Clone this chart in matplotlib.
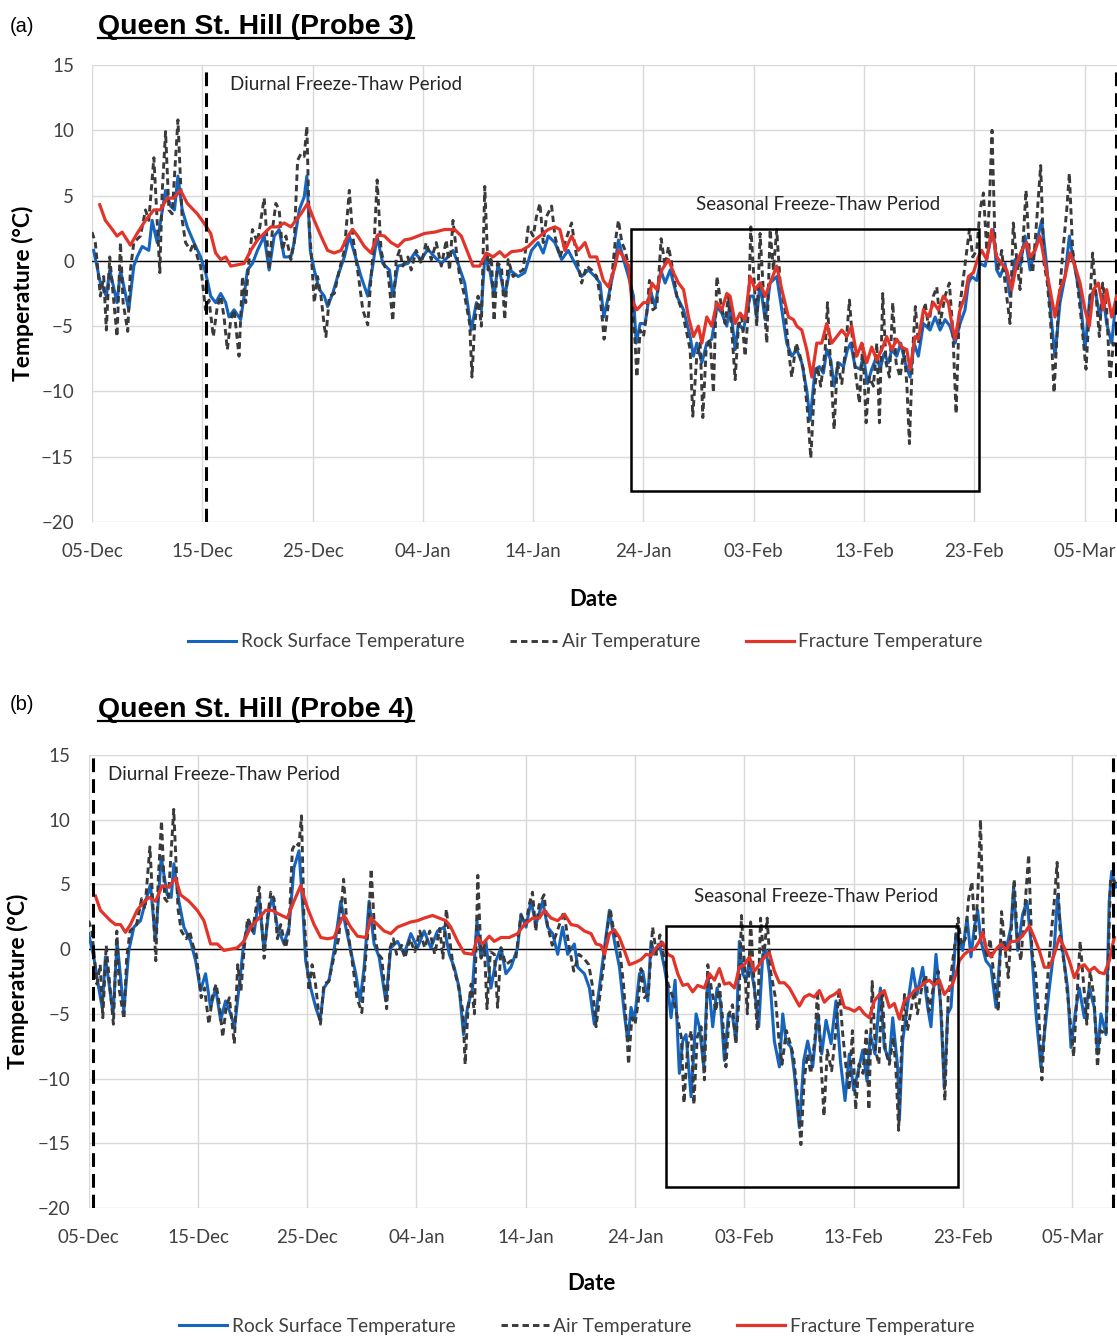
import numpy as np
import matplotlib.pyplot as plt
import matplotlib.dates as mdates
from matplotlib.patches import Rectangle
from matplotlib.lines import Line2D

plt.rcParams['font.family'] = ['Lato', 'DejaVu Sans']

# days since 05-Dec, air temperature is shared by both probes
air_day = [0.00, 0.30, 0.76, 1.06, 1.30, 1.61, 1.82, 2.27, 2.58, 2.82, 3.24, 3.48, 3.79, 4.39, 4.85, 5.15,
           5.61, 5.91, 6.15, 6.36, 6.67, 6.97, 7.27, 7.79, 8.18, 8.48, 8.94, 9.24, 9.55, 9.85, 10.30, 10.61,
           11.00, 11.36, 11.67, 11.97, 12.27, 12.58, 12.88, 13.33, 13.64, 13.94, 14.24, 14.55, 15.00, 15.61,
           16.06, 16.36, 16.67, 16.97, 17.27, 17.58, 18.03, 18.33, 18.64, 18.94, 19.24, 19.48, 19.70, 19.91,
           20.15, 20.45, 20.76, 21.06, 21.21, 21.52, 21.97, 22.42, 22.88, 23.33, 23.64, 23.94, 24.24, 24.55,
           25.00, 25.30, 25.61, 25.85, 26.21, 26.52, 26.82, 27.27, 27.58, 27.88, 28.18, 28.64, 28.94, 29.39,
           29.85, 30.30, 30.76, 31.21, 31.67, 32.12, 32.42, 32.73, 33.03, 33.33, 33.79, 34.24, 34.45, 34.70,
           35.00, 35.30, 35.61, 35.91, 36.21, 36.45, 36.76, 37.12, 37.42, 37.73, 38.18, 38.64, 39.09, 39.55,
           40.00, 40.30, 40.61, 40.91, 41.21, 41.67, 41.97, 42.42, 42.88, 43.48, 43.94, 44.39, 44.85, 45.30,
           45.76, 46.07, 46.43, 46.83, 47.13, 47.43, 47.73, 48.04, 48.34, 48.64, 48.94, 49.24, 49.40, 49.70,
           50.00, 50.30, 50.54, 50.85, 51.21, 51.60, 51.96, 52.27, 52.66, 53.02, 53.47, 53.87, 54.23, 54.47,
           54.83, 55.14, 55.38, 55.68, 56.04, 56.34, 56.65, 57.01, 57.40, 57.70, 58.00, 58.31, 58.61, 58.91,
           59.21, 59.52, 59.73, 59.97, 60.27, 60.57, 60.88, 61.18, 61.48, 61.78, 62.08, 62.39, 62.84, 63.14,
           63.44, 63.84, 64.20, 64.50, 64.86, 65.17, 65.47, 65.77, 66.07, 66.47, 66.68, 66.98, 67.28, 67.58,
           67.98, 68.37, 68.67, 68.97, 69.27, 69.58, 69.88, 70.18, 70.48, 70.85, 71.15, 71.39, 71.69, 71.99,
           72.30, 72.60, 72.90, 73.26, 73.63, 73.87, 74.11, 74.41, 74.65, 74.92, 75.23, 75.53, 75.83, 76.28,
           76.59, 76.89, 77.34, 77.73, 78.04, 78.34, 78.64, 78.94, 79.31, 79.55, 79.85, 80.21, 80.51, 80.82,
           81.12, 81.36, 81.60, 81.87, 82.18, 82.48, 82.78, 83.23, 83.53, 83.84, 84.14, 84.44, 84.68, 84.98,
           85.29, 85.65, 86.01, 86.31, 86.62, 86.92, 87.22, 87.61, 88.01, 88.37, 88.61, 88.91, 89.27, 89.73,
           90.12, 90.42, 90.72, 91.03, 91.33, 91.63, 91.99, 92.30, 92.60, 93.10, 93.50, 94.10]
air_temp = [2.2, 1.4, -2.7, -1.2, -5.3, 0.3, -1.7, -5.8, 1.4, -3.2, -5.4, -0.7, 1.4, 1.9, 3.9, 3.1,
            7.9, 3.1, -0.9, 5.2, 9.9, 3.9, 3.6, 10.8, 3.1, 1.4, 0.8, 1.4, 0.3, -0.4, -3.75, -3.0,
            -5.8, -3.5, -2.7, -4.3, -6.8, -4.5, -3.75, -7.3, -1.2, -3.2, 0.1, 2.4, 1.4, 4.8,
            -0.7, 2.4, 4.4, 3.9, 0.8, 1.9, 0.1, 1.4, 7.7, 8.2, 8.0, 10.3, 2.6, 0.1,
            -3.2, -1.2, -2.7, -5.0, -5.8, -2.7, -2.5, -0.7, 0.8, 5.4, 1.9, 0.1, -1.7, -3.75,
            -4.9, -1.2, 1.9, 6.2, 0.8, -0.4, -0.7, -4.6, 0.1, 0.8, -0.4, 0.3, -0.7, 0.8,
            -0.2, 1.4, 0.1, 1.4, -0.4, 1.6, -0.7, 3.1, 0.8, -1.2, -2.7, -4.8, -8.9, -4.8,
            -2.7, -5.0, 5.7, -0.7, 0.3, -4.6, -0.2, -0.4, -4.5, 0.1, -1.2, -0.9, -0.7, 2.6,
            1.9, 3.4, 4.4, 1.4, 3.4, 4.2, 1.9, 0.3, 1.4, 2.9, 0.3, -1.7, -0.4, -0.7,
            -1.2, -2.7, -6.0, -3.2, -1.2, 1.4, 3.1, 1.4, 0.8, -0.4, -2.7, -6.3, -8.9, -5.3,
            -5.8, -4.0, -1.5, -3.75, -3.5, 1.7, -0.4, 1.1, -0.7, -2.7, -3.75, -5.3, -6.8, -11.9,
            -7.3, -6.3, -12.0, -6.8, -6.0, -10.1, -1.2, -3.2, -4.8, -2.7, -5.3, -9.1, -5.0, -4.3,
            -7.3, -3.75, 2.6, -0.7, -5.0, 2.1, -2.5, -6.3, 2.4, -0.7, 2.4, -1.7, -3.75, -6.8,
            -8.9, -6.3, -7.3, -8.3, -11.4, -15.1, -10.1, -8.1, -9.6, -6.8, -3.2, -8.3, -12.9, -7.8,
            -9.4, -6.3, -3.0, -6.3, -8.9, -10.9, -6.3, -12.4, -8.9, -9.6, -6.3, -12.4, -2.5, -7.8,
            -8.9, -3.2, -7.8, -8.9, -6.8, -9.4, -14.0, -6.8, -3.5, -6.3, -4.8, -3.2, -5.0, -2.7,
            -2.0, -4.8, -2.7, -1.7, -5.3, -11.7, -3.75, -1.7, 0.8, 2.4, 0.3, 0.8, 3.9, 5.2,
            0.8, 4.4, 10.0, 1.4, -0.7, 0.8, -1.7, -4.8, 2.9, 0.1, -2.2, 1.9, 5.4, 0.8,
            -0.9, 3.1, 7.3, -0.2, -1.7, -4.8, -10.1, -3.75, 0.6, 3.9, 6.7, 0.8, -1.2, -4.8,
            -8.3, -3.75, 0.6, -2.7, -5.8, -1.7, -3.75, -9.1, -6.3, -6.6, 5.5, 5.0]

# Probe 3
rock3_day = [0.15, 0.76, 1.30, 1.61, 2.27, 2.58, 3.33, 3.79, 4.09, 4.55, 5.15, 5.45, 5.91, 6.67, 7.12, 7.48,
             7.79, 8.18, 8.64, 9.24, 9.85, 10.30, 10.76, 11.21, 11.67, 12.12, 12.42, 12.88, 13.48, 13.79,
             14.09, 14.55, 15.00, 15.61, 16.06, 16.52, 16.97, 17.42, 18.03, 18.33, 18.79, 19.24, 19.48,
             19.79, 20.15, 20.61, 21.06, 21.36, 21.82, 22.27, 22.88, 23.33, 23.79, 24.39, 25.00, 25.45,
             25.85, 26.36, 26.97, 27.27, 27.73, 28.64, 29.25, 29.85, 30.45, 31.06, 31.67, 32.27, 32.73,
             33.18, 33.79, 34.39, 34.85, 35.30, 35.61, 36.06, 36.45, 36.82, 37.42, 37.88, 38.64, 39.24,
             39.85, 40.45, 40.91, 41.36, 41.97, 42.58, 43.18, 43.79, 44.39, 45.00, 45.61, 46.06, 46.40,
             46.83, 47.43, 47.73, 48.19, 48.64, 49.09, 49.34, 49.70, 50.15, 50.60, 51.06, 51.57, 51.96,
             52.42, 53.02, 53.63, 54.23, 54.53, 54.83, 55.29, 55.74, 56.19, 56.65, 57.10, 57.55, 57.85,
             58.31, 58.61, 59.06, 59.67, 59.97, 60.27, 60.57, 61.03, 61.48, 62.08, 62.54, 62.99, 63.44,
             63.90, 64.35, 64.80, 65.11, 65.56, 65.95, 66.31, 66.62, 66.98, 67.28, 67.67, 68.13, 68.49,
             68.79, 69.18, 69.64, 69.94, 70.30, 70.69, 71.15, 71.45, 71.81, 72.21, 72.51, 72.96, 73.32,
             73.72, 74.17, 74.53, 74.92, 75.38, 75.98, 76.44, 76.89, 77.34, 77.79, 78.25, 78.70, 79.15,
             79.46, 79.76, 80.21, 80.51, 80.97, 81.42, 81.72, 82.02, 82.33, 82.78, 83.23, 83.69, 84.14,
             84.59, 85.05, 85.65, 86.10, 86.56, 87.01, 87.31, 87.76, 88.22, 88.61, 88.97, 89.58, 90.03,
             90.48, 90.94, 91.39, 91.69, 91.99, 92.45, 92.90]
rock3_temp = [0.8, -1.7, -2.7, -0.7, -3.2, -0.7, -3.75, -0.4, 0.3, 1.1, 0.8, 3.1, 1.4, 5.4, 4.2, 3.9,
              6.5, 3.9, 2.6, 1.4, 0.3, -0.9, -2.7, -3.2, -2.5, -3.2, -4.3, -3.75, -4.5, -2.7,
              -0.7, -0.2, 0.8, 1.9, -0.7, 1.9, 2.4, 0.3, 0.3, 1.4, 3.9, 4.9, 6.5,
              0.8, -0.7, -2.2, -2.7, -3.5, -2.5, -1.2, 0.3, 1.9, 0.6, -1.2, -2.7, -0.4,
              1.9, -0.2, -0.7, -2.7, -0.4, -0.2, 0.6, 0.1, 0.9, 0.3, -0.2, 0.3, 0.8,
              -0.2, -1.7, -5.3, -3.2, -3.75, 0.3, -0.7, -2.7, -0.2, -2.7, -0.7, -1.2, -0.9,
              0.8, 1.4, 0.6, 1.9, 1.4, 0.1, 0.8, -0.2, -1.2, -0.7, -1.2, -1.7, -4.3,
              -2.7, -0.2, 1.6, 0.1, -1.2, -2.7, -6.3, -4.8, -4.8, -2.2, -3.5, -0.7, -1.7,
              -0.7, -2.7, -3.75, -5.8, -7.3, -6.3, -7.8, -6.3, -6.0, -3.5, -4.0, -5.0, -3.2,
              -6.8, -4.8, -5.3, -2.7, -2.7, -4.3, -1.7, -4.5, -1.7, -1.2, -3.75, -6.3, -7.3,
              -6.8, -7.8, -9.9, -12.2, -8.3, -8.1, -8.6, -6.8, -7.6, -9.6, -7.8, -8.1, -6.8,
              -6.3, -8.1, -8.3, -7.3, -9.4, -8.3, -7.3, -8.3, -7.1, -7.8, -6.8, -7.3, -6.3,
              -7.8, -8.9, -6.3, -7.3, -4.8, -5.3, -4.3, -5.3, -4.5, -5.0, -6.3, -4.8, -3.75,
              -1.7, -1.2, -1.5, -0.2, -0.4, 1.4, 2.4, -0.7, -1.2, -0.2, -2.7, 0.1, -0.4,
              1.9, -0.7, 1.4, 3.1, -0.4, -4.8, -7.3, -3.2, -1.2, 1.9, 0.1, -2.7, -6.8,
              -2.7, -2.2, -4.3, -2.7, -4.8, -6.3, -2.5]

frac3_day = [0.70, 1.21, 1.67, 2.27, 2.73, 3.48, 4.09, 4.85, 5.61, 6.21, 6.82, 7.42, 8.03, 8.64, 9.55, 10.15,
             10.76, 11.21, 11.67, 12.12, 12.58, 13.18, 13.79, 14.39, 15.00, 15.61, 16.21, 16.82, 17.42,
             18.03, 18.48, 18.94, 19.55, 20.15, 20.76, 21.36, 21.97, 22.58, 23.18, 23.64, 24.09, 24.70,
             25.30, 25.91, 26.52, 27.12, 27.73, 28.33, 28.94, 29.55, 30.15, 31.06, 31.97, 32.88, 33.48,
             34.09, 34.55, 35.15, 35.76, 36.36, 36.97, 37.42, 38.03, 38.94, 39.55, 40.15, 40.76, 41.36,
             41.97, 42.42, 42.88, 43.48, 44.09, 44.70, 45.15, 45.76, 46.36, 46.83, 47.43, 47.73, 48.19,
             48.64, 48.94, 49.40, 50.00, 50.45, 50.76, 51.21, 51.66, 52.27, 52.72, 53.17, 53.63, 54.08,
             54.53, 54.98, 55.29, 55.74, 56.19, 56.65, 57.10, 57.55, 57.85, 58.31, 58.76, 59.21, 59.67,
             60.12, 60.57, 61.03, 61.48, 62.08, 62.54, 63.14, 63.60, 63.90, 64.35, 64.80, 65.26, 65.71,
             66.16, 66.62, 67.07, 67.52, 67.98, 68.43, 68.88, 69.34, 69.79, 70.24, 70.69, 71.15, 71.60,
             72.05, 72.51, 72.96, 73.41, 73.87, 74.17, 74.62, 74.92, 75.38, 75.83, 76.28, 76.74, 77.19,
             77.64, 77.95, 78.25, 78.70, 79.15, 79.46, 79.91, 80.36, 80.66, 81.12, 81.57, 82.02, 82.48,
             82.93, 83.38, 83.84, 84.29, 84.74, 85.05, 85.50, 85.95, 86.40, 86.86, 87.31, 87.76, 88.22,
             88.67, 89.12, 89.58, 90.03, 90.42, 90.79, 91.24, 91.69, 91.99, 92.45, 92.90]
frac3_temp = [4.3, 3.1, 2.6, 1.9, 2.2, 1.2, 2.1, 3.1, 3.9, 3.9, 4.8, 4.8, 5.4, 4.4, 3.6, 2.9,
              2.1, 0.6, 0.1, 0.3, -0.4, -0.3, -0.2, 0.8, 1.6, 2.1, 2.6, 2.6, 2.9,
              2.6, 3.1, 3.6, 4.4, 3.1, 1.9, 0.8, 0.6, 0.8, 1.9, 2.4, 1.9, 1.1,
              0.6, 2.0, 1.9, 1.4, 1.1, 1.6, 1.7, 1.9, 2.1, 2.2, 2.4, 2.4, 1.9,
              0.6, -0.4, -0.4, 0.6, 0.3, 0.7, 0.3, 0.7, 0.8, 1.1, 1.6, 2.0, 2.4,
              2.6, 2.4, 0.8, 1.9, 0.8, 1.4, 0.3, 0.3, -1.5, -2.0, -0.4, 0.8, 0.3,
              -0.4, -3.0, -3.75, -3.2, -3.2, -1.7, -2.2, -0.7, 0.1, -0.9, -1.7, -2.2, -4.3,
              -5.8, -5.0, -6.3, -4.3, -5.0, -3.2, -3.75, -2.5, -2.7, -4.8, -4.0, -4.5, -1.2,
              -2.2, -1.7, -2.7, -1.7, -0.4, -2.2, -4.3, -4.5, -5.0, -5.3, -6.8, -8.9, -6.3,
              -6.3, -4.8, -6.3, -5.8, -5.3, -5.8, -5.0, -7.3, -6.3, -7.8, -6.6, -7.6, -6.8,
              -5.8, -6.8, -6.0, -6.6, -6.8, -8.3, -5.8, -6.0, -3.75, -4.3, -3.2, -3.75, -2.7,
              -3.2, -4.8, -6.0, -3.75, -2.7, -1.2, -0.9, 0.3, 0.8, 0.1, 2.4, 0.3, -0.2,
              -0.7, -2.2, -0.2, 0.8, 1.4, 0.3, 0.8, 1.9, -0.2, -2.2, -4.3, -2.2, -1.2,
              0.6, -0.4, -1.7, -3.75, -5.0, -2.2, -1.7, -3.75, -2.2, -4.3, -2.7]

# Probe 4
rock4_day = [0.00, 0.47, 0.93, 1.24, 1.54, 2.24, 2.61, 3.22, 3.68, 4.14, 4.75, 5.21, 5.66, 6.12, 6.64, 7.19,
             7.56, 7.80, 8.26, 8.72, 9.33, 9.79, 10.24, 10.70, 11.16, 11.62, 12.08, 12.53, 12.99, 13.36,
             13.76, 14.21, 14.67, 15.13, 15.59, 16.05, 16.50, 16.81, 17.27, 17.88, 18.34, 18.79, 19.25,
             19.56, 19.86, 20.32, 20.78, 21.18, 21.54, 22.00, 22.46, 23.07, 23.53, 23.98, 24.44, 24.84,
             25.21, 25.66, 26.12, 26.58, 27.19, 27.65, 28.26, 28.87, 29.48, 30.09, 30.70, 31.31, 31.92,
             32.53, 33.00, 33.45, 33.91, 34.30, 34.67, 35.13, 35.53, 35.89, 36.35, 36.81, 37.27, 37.73,
             38.18, 38.64, 39.25, 39.56, 40.02, 40.47, 40.93, 41.54, 42.00, 42.46, 42.92, 43.37, 43.83,
             44.44, 44.75, 45.36, 45.82, 46.27, 46.73, 47.04, 47.65, 48.11, 48.57, 49.02, 49.33, 49.63,
             49.94, 50.40, 50.70, 51.16, 51.46, 51.77, 52.23, 52.68, 52.99, 53.29, 53.66, 54.05, 54.36,
             54.66, 55.12, 55.58, 55.88, 56.28, 56.65, 57.10, 57.50, 57.80, 58.17, 58.54, 58.93, 59.24,
             59.54, 59.85, 60.15, 60.46, 60.91, 61.31, 61.68, 61.98, 62.29, 62.74, 63.20, 63.51, 63.81,
             64.27, 64.57, 65.03, 65.43, 65.79, 66.25, 66.71, 67.07, 67.47, 67.93, 68.38, 68.78, 69.21,
             69.60, 70.00, 70.37, 70.82, 71.22, 71.52, 71.95, 72.44, 72.80, 73.26, 73.57, 74.02, 74.18,
             74.48, 74.88, 75.40, 75.79, 76.31, 76.77, 77.07, 77.53, 77.93, 78.29, 78.60, 78.90, 79.36,
             79.66, 79.97, 80.37, 80.73, 81.04, 81.34, 81.65, 82.10, 82.56, 83.02, 83.48, 83.93, 84.39,
             84.63, 85.00, 85.46, 85.85, 86.22, 86.68, 87.13, 87.44, 87.90, 88.35, 88.66, 89.12, 89.57,
             89.88, 90.34, 90.64, 91.10, 91.55, 92.01, 92.32, 92.62, 93.08, 93.38, 93.60, 93.99]
rock4_temp = [1.2, -0.6, -3.0, -4.5, -0.6, -5.0, 0.6, -4.8, -0.1, 1.7, 2.2, 3.7, 5.0, 0.6, 7.1, 4.2,
              4.0, 6.6, 3.7, 1.7, 0.6, -0.9, -3.2, -1.9, -4.5, -3.0, -5.5, -4.0, -5.0, -6.0,
              -3.0, 0.6, 2.2, 1.2, 4.0, -0.1, 3.0, 4.0, 1.7, 0.4, 1.7, 6.3, 7.6,
              3.7, -0.9, -3.0, -4.5, -5.5, -3.0, -2.4, -0.1, 3.7, 1.7, -0.1, -1.9, -4.0,
              -1.4, 3.7, 0.4, -0.6, -4.0, 0.1, 0.6, -0.4, 1.2, 0.1, 1.4, 0.1, 1.4,
              1.7, -0.4, -1.4, -3.0, -6.6, -4.5, -3.0, 2.2, -0.6, 0.6, -3.0, -0.9, 0.1,
              -1.9, -1.4, 0.1, 2.7, 1.7, 3.7, 1.9, 3.7, 1.7, 1.2, -0.4, 1.7, -0.4,
              0.4, -1.4, -1.9, -3.0, -5.8, -3.0, -0.9, 3.0, 0.6, -1.4, -5.0, -7.1, -4.5,
              -5.5, -1.9, -1.7, -4.0, 0.6, -0.4, 0.4, -1.4, -3.0, -5.3, -2.4, -9.6, -7.1,
              -6.6, -11.4, -5.0, -6.0, -9.1, -1.9, -6.0, -3.0, -4.0, -8.6, -5.0, -5.3, -7.1,
              0.6, -1.9, -2.4, -0.9, -3.0, -6.0, -0.4, -0.1, -1.9, -7.1, -9.1, -5.0, -7.1,
              -7.6, -9.6, -13.8, -8.6, -7.1, -9.1, -5.0, -8.1, -5.5, -7.3, -4.0, -8.6, -11.7,
              -8.1, -10.9, -9.6, -7.8, -10.2, -6.6, -8.1, -3.0, -7.6, -8.6, -5.3, -9.1, -13.2,
              -7.1, -4.6, -1.5, -3.5, -1.4, -4.5, -6.0, -0.4, -4.0, -10.7, -5.0, -4.5, 1.2,
              0.6, -0.1, 2.4, -0.6, 1.7, 3.0, 0.6, -0.9, -1.4, -4.5, 0.6, -0.1, 1.7,
              4.8, -0.1, 2.7, 3.7, 0.6, -5.0, -9.1, -6.6, -3.0, 0.1, 4.2, -0.1, -3.0,
              -7.6, -4.5, -3.0, -5.3, -3.0, -4.5, -8.1, -5.0, -6.6, 3.7, 6.0, 4.8]

frac4_day = [0.63, 1.08, 1.54, 2.00, 2.46, 2.92, 3.37, 3.83, 4.44, 4.90, 5.51, 6.12, 6.73, 7.34, 7.95, 8.41,
             9.18, 9.94, 10.55, 11.16, 11.77, 12.38, 12.99, 13.60, 14.21, 14.82, 15.59, 16.20, 16.81,
             17.42, 18.18, 18.79, 19.40, 20.02, 20.63, 21.24, 21.85, 22.46, 23.07, 23.37, 23.98, 24.60,
             25.36, 25.82, 26.43, 27.04, 27.65, 28.26, 28.87, 29.48, 30.09, 30.70, 31.47, 32.08, 32.69,
             33.14, 33.76, 34.37, 35.13, 35.59, 36.05, 36.66, 37.11, 37.73, 38.49, 39.25, 39.86, 40.63,
             41.24, 41.69, 42.31, 42.92, 43.53, 44.14, 44.75, 45.36, 45.97, 46.43, 46.88, 47.20, 47.65,
             48.11, 48.57, 49.02, 49.48, 50.09, 50.55, 51.01, 51.46, 51.92, 52.53, 52.99, 53.45, 53.90,
             54.36, 54.82, 55.27, 55.73, 56.34, 56.80, 57.26, 57.71, 58.17, 58.63, 59.09, 59.54, 60.00,
             60.46, 60.91, 61.37, 61.83, 62.29, 62.74, 63.20, 63.66, 64.12, 64.57, 65.03, 65.49, 65.95,
             66.40, 66.86, 67.32, 67.77, 68.23, 68.69, 69.15, 69.60, 70.06, 70.52, 70.98, 71.43, 71.89,
             72.35, 72.80, 73.26, 73.72, 74.18, 74.63, 75.09, 75.55, 76.01, 76.46, 76.92, 77.38, 77.84,
             78.29, 78.75, 79.05, 79.36, 79.66, 80.12, 80.58, 81.04, 81.49, 81.80, 82.10, 82.56, 83.02,
             83.48, 83.93, 84.39, 84.85, 85.30, 85.76, 86.07, 86.52, 86.98, 87.44, 87.90, 88.35, 88.81,
             89.27, 89.73, 90.18, 90.64, 91.10, 91.55, 92.01, 92.47, 92.93, 93.38, 93.84]
frac4_temp = [4.1, 3.0, 2.6, 2.2, 1.9, 1.9, 1.3, 1.9, 3.0, 3.5, 4.0, 3.7, 4.9, 4.8, 5.5, 4.2,
              3.7, 3.0, 2.2, 0.4, 0.4, -0.1, 0.0, 0.1, 0.6, 1.7, 2.4, 3.0, 3.0,
              2.7, 2.4, 3.7, 4.9, 3.2, 1.9, 0.9, 0.8, 0.9, 2.2, 2.6, 1.7, 1.0,
              0.9, 2.4, 1.9, 1.4, 1.2, 1.7, 1.9, 2.1, 2.2, 2.4, 2.6, 2.4, 2.2,
              1.7, 0.6, -0.3, -0.4, 0.9, 0.4, 1.0, 0.6, 0.9, 0.9, 1.2, 1.9, 2.4,
              2.4, 3.0, 2.4, 2.2, 2.7, 1.9, 1.8, 1.4, 1.2, 0.4, 0.3, -0.4, 1.2,
              1.5, 0.9, -0.1, -1.2, -1.0, -0.8, -0.4, -0.5, 0.1, 0.5, -0.4, -0.6, -1.9,
              -2.8, -2.7, -3.3, -2.8, -3.0, -1.9, -2.4, -1.5, -2.7, -2.6, -3.0, -1.4, -1.2,
              -0.6, -1.7, -1.2, -0.6, -0.3, -1.7, -2.6, -2.6, -3.0, -3.7, -4.4, -3.7, -3.5,
              -3.7, -3.2, -4.1, -3.7, -3.5, -3.2, -4.5, -4.6, -4.8, -4.5, -5.0, -5.3, -4.0,
              -3.5, -3.2, -4.5, -4.2, -5.4, -4.0, -3.7, -3.2, -3.0, -2.6, -2.4, -2.8, -2.4,
              -3.5, -3.0, -2.7, -1.9, -0.9, -0.4, -0.1, 0.0, 0.6, 1.3, 0.1, -0.6, 0.0,
              0.4, -0.1, 0.6, 0.6, 0.9, 1.4, 1.8, 0.9, -0.1, -1.4, -1.4, -0.4, 0.9,
              0.1, -0.9, -2.2, -1.4, -1.2, -1.7, -1.4, -1.8, -1.9, -0.9, 0.9]

tick_days = [0, 10, 20, 30, 40, 50, 60, 70, 80, 90]
start = np.datetime64('2020-12-05T00:00')


def to_dates(days):
    return start + np.round(np.asarray(days, dtype=float) * 1440).astype('timedelta64[m]')


def date_num(day):
    return mdates.date2num(to_dates([day])[0])


def draw_panel(ax, rock_d, rock_t, frac_d, frac_t, xmax, ft_days, box, diurnal_pos, seasonal_pos,
               leg_x, ylab_x, date_y):
    ax.plot(to_dates(rock_d), rock_t, color='#1565C0', lw=2.2, label='Rock Surface Temperature', zorder=3)
    ax.plot(to_dates(air_day), air_temp, color='#3A3A3A', lw=2.1, dashes=(2.2, 1.4),
            label='Air Temperature', zorder=4)
    ax.plot(to_dates(frac_d), frac_t, color='#E3342A', lw=2.3, label='Fracture Temperature', zorder=5)

    ax.axhline(0, color='black', lw=1.0, zorder=2)
    for d in ft_days:
        ax.axvline(to_dates([d])[0], color='black', lw=2.2, dashes=(4.5, 2.3), zorder=6)
    x0, x1, y0, y1 = box
    ax.add_patch(Rectangle((date_num(x0), y0), date_num(x1) - date_num(x0), y1 - y0,
                           fill=False, edgecolor='black', lw=1.8, zorder=6))
    ax.text(date_num(diurnal_pos[0]), diurnal_pos[1], 'Diurnal Freeze-Thaw Period',
            fontsize=13.5, color='#262626', ha='left', va='center')
    ax.text(date_num(seasonal_pos[0]), seasonal_pos[1], 'Seasonal Freeze-Thaw Period',
            fontsize=13.5, color='#262626', ha='center', va='center')

    ax.set_xlim(start, to_dates([xmax])[0])
    ax.set_ylim(-20, 15)
    ax.set_xticks(to_dates(tick_days))
    ax.xaxis.set_major_formatter(mdates.DateFormatter('%d-%b'))
    ax.set_yticks(range(-20, 16, 5))
    ax.tick_params(length=0, labelsize=13.5, labelcolor='#404040')
    ax.tick_params(axis='x', pad=15)
    ax.tick_params(axis='y', pad=13)
    ax.grid(True, color='#D9D9D9', lw=1.0)
    ax.set_axisbelow(True)
    for s in ax.spines.values():
        s.set_visible(False)

    ax.set_ylabel('Temperature (°C)', fontsize=16.5, fontweight='bold')
    ax.yaxis.set_label_coords(ylab_x, 0.5)
    ax.set_xlabel('Date', fontsize=16, fontweight='bold')
    ax.xaxis.set_label_coords(0.489, date_y)
    ax.legend(loc='center', bbox_to_anchor=(leg_x, -0.262), ncol=3, frameon=False, fontsize=13.8,
              handlelength=2.5, handletextpad=0.25, columnspacing=2.35, labelcolor='#404040')


W, H = 1117, 1336
fig = plt.figure(figsize=(W / 100, H / 100), dpi=100)
ax1 = fig.add_axes([92 / W, 1 - 522 / H, (W - 92) / W, 457 / H])
ax2 = fig.add_axes([88.6 / W, 1 - 1208 / H, (W - 88.6) / W, 453 / H])

draw_panel(ax1, rock3_day, rock3_temp, frac3_day, frac3_temp, 92.93, [10.33, 92.84],
           (48.87, 80.4, -17.6, 2.45), (12.5, 13.5), (65.8, 4.3), 0.4815, -0.0566, -0.147)
draw_panel(ax2, rock4_day, rock4_temp, frac4_day, frac4_temp, 94.09, [0.40, 93.72],
           (52.8, 79.5, -18.4, 1.78), (1.8, 13.5), (66.6, 4.1), 0.4746, -0.058, -0.143)

titles = []
for lab, ttl, ylab, yttl in [('(a)', 'Queen St. Hill (Probe 3)', 27, 27),
                              ('(b)', 'Queen St. Hill (Probe 4)', 705, 710)]:
    fig.text(10 / W, 1 - ylab / H, lab, fontfamily='Liberation Sans', fontsize=14.5, va='center')
    titles.append(fig.text(98 / W, 1 - yttl / H, ttl, fontfamily='Liberation Sans', fontweight='bold',
                           fontsize=20.4, va='center', ha='left'))

# underline the panel titles
fig.canvas.draw()
renderer = fig.canvas.get_renderer()
for t in titles:
    bb = t.get_window_extent(renderer)
    y = (bb.y0 + 2.5) / H
    fig.add_artist(Line2D([bb.x0 / W, bb.x1 / W], [y, y], color='black', lw=1.6))

fig.savefig('out.png', dpi=100)
